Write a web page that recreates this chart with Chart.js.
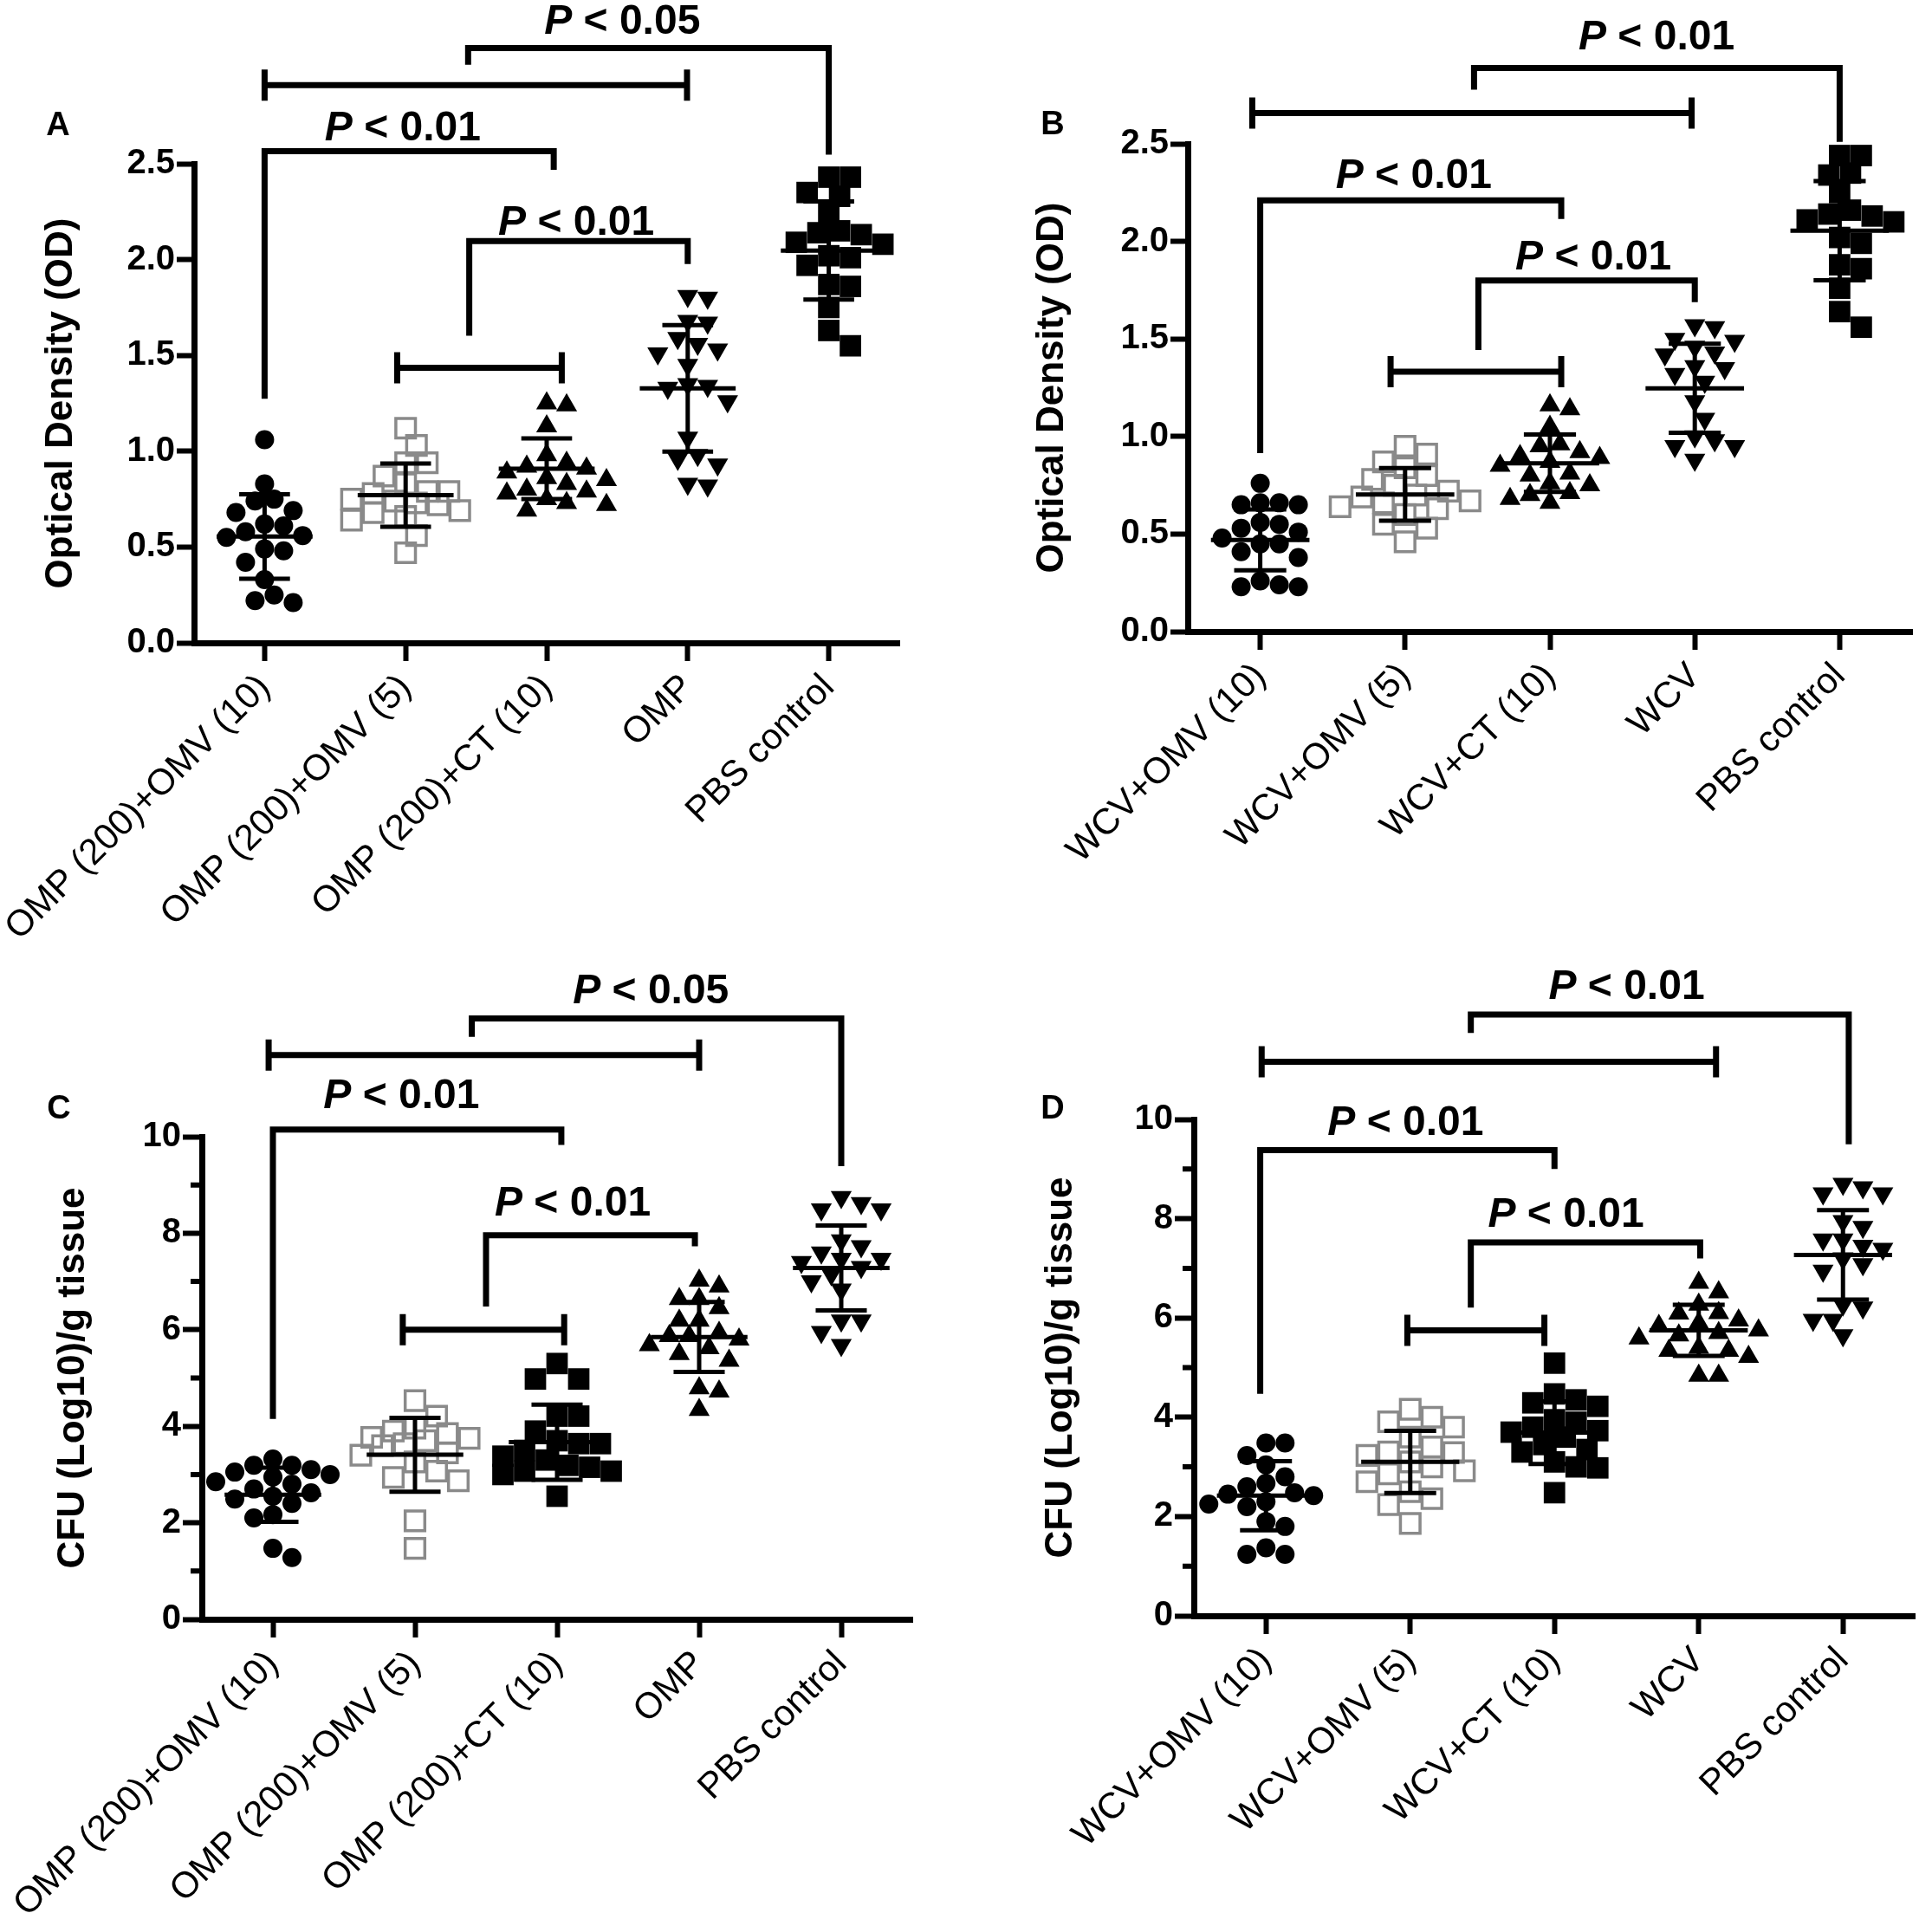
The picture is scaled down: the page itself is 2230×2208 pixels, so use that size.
<!DOCTYPE html>
<html>
<head>
<meta charset="utf-8">
<script src="https://cdn.jsdelivr.net/npm/chart.js@4.4.1/dist/chart.umd.min.js"></script>
<style>
  html, body { margin: 0; padding: 0; background: #fff; }
  #page { position: relative; width: 2230px; height: 2208px; overflow: hidden; }
  .panel { position: absolute; width: 1115px; height: 1104px; }
  .tag { position: absolute; font: bold 38px "Liberation Sans", Arial, sans-serif; color: #000; transform: translate(-50%, -50%); }
</style>
</head>
<body>
<div id="page">
  <div class="panel" style="left:0;top:0"><canvas id="chartA"></canvas></div>
  <div class="panel" style="left:1115px;top:0"><canvas id="chartB"></canvas></div>
  <div class="panel" style="left:0;top:1104px"><canvas id="chartC"></canvas></div>
  <div class="panel" style="left:1115px;top:1104px"><canvas id="chartD"></canvas></div>
  <div class="tag" style="left:67px;top:143px">A</div>
  <div class="tag" style="left:1215px;top:142px">B</div>
  <div class="tag" style="left:68px;top:1278px">C</div>
  <div class="tag" style="left:1215px;top:1278px">D</div>
</div>
<script>
// ---- categories ----
const ompGroups = ['OMP (200)+OMV (10)', 'OMP (200)+OMV (5)', 'OMP (200)+CT (10)', 'OMP', 'PBS control'];
const wcvGroups = ['WCV+OMV (10)', 'WCV+OMV (5)', 'WCV+CT (10)', 'WCV', 'PBS control'];

// ---- A: optical density, OMP vaccines ----
const odOmp = [
  [1.06, 0.83, 0.75, 0.74, 0.69, 0.68, 0.62, 0.61, 0.58, 0.56, 0.55, 0.49, 0.48, 0.42, 0.33, 0.25, 0.22, 0.21],
  [1.12, 1.03, 0.94, 0.94, 0.87, 0.83, 0.79, 0.79, 0.78, 0.75, 0.74, 0.73, 0.72, 0.69, 0.68, 0.66, 0.64, 0.56, 0.47],
  [1.25, 1.24, 1.13, 0.98, 0.94, 0.92, 0.91, 0.89, 0.86, 0.85, 0.83, 0.80, 0.79, 0.78, 0.75, 0.73, 0.72, 0.69],
  [1.81, 1.80, 1.68, 1.67, 1.59, 1.56, 1.53, 1.51, 1.45, 1.35, 1.34, 1.33, 1.26, 1.07, 0.98, 0.96, 0.93, 0.83, 0.82],
  [2.43, 2.43, 2.35, 2.33, 2.24, 2.15, 2.14, 2.13, 2.09, 2.08, 2.02, 2.01, 1.97, 1.87, 1.86, 1.75, 1.63, 1.55]
];
const odOmpMean = [0.555, 0.771, 0.909, 1.328, 2.047];
const odOmpSd = [0.22, 0.165, 0.158, 0.33, 0.256];

// ---- B: optical density, WCV vaccines ----
const odWcv = [
  [0.76, 0.66, 0.66, 0.65, 0.65, 0.56, 0.55, 0.53, 0.51, 0.48, 0.45, 0.45, 0.41, 0.38, 0.26, 0.24, 0.23, 0.23],
  [0.95, 0.91, 0.87, 0.84, 0.80, 0.78, 0.75, 0.72, 0.70, 0.69, 0.67, 0.66, 0.64, 0.63, 0.60, 0.55, 0.53, 0.46],
  [1.16, 1.14, 1.05, 0.96, 0.95, 0.92, 0.90, 0.89, 0.87, 0.85, 0.81, 0.80, 0.76, 0.75, 0.71, 0.70, 0.68, 0.66],
  [1.57, 1.56, 1.50, 1.49, 1.46, 1.43, 1.42, 1.36, 1.35, 1.32, 1.28, 1.18, 1.09, 1.00, 0.98, 0.95, 0.95, 0.88],
  [2.44, 2.44, 2.35, 2.34, 2.25, 2.16, 2.14, 2.13, 2.11, 2.10, 2.02, 1.99, 1.88, 1.86, 1.76, 1.64, 1.56]
];
const odWcvMean = [0.47, 0.703, 0.863, 1.247, 2.055];
const odWcvSd = [0.156, 0.135, 0.147, 0.228, 0.254];

// ---- C: CFU, OMP vaccines ----
const cfuOmp = [
  [3.32, 3.19, 3.19, 3.10, 3.05, 3.00, 2.95, 2.85, 2.80, 2.70, 2.62, 2.55, 2.49, 2.40, 2.17, 2.10, 1.47, 1.28],
  [4.53, 4.21, 3.96, 3.90, 3.85, 3.77, 3.75, 3.70, 3.64, 3.60, 3.45, 3.40, 3.26, 3.07, 2.94, 2.87, 2.04, 1.47],
  [5.30, 4.98, 4.98, 4.21, 4.21, 3.90, 3.70, 3.64, 3.64, 3.50, 3.38, 3.30, 3.19, 3.15, 3.07, 3.07, 3.00, 2.55],
  [7.02, 6.90, 6.64, 6.64, 6.45, 6.19, 6.19, 5.94, 5.87, 5.87, 5.80, 5.68, 5.62, 5.50, 5.36, 4.79, 4.72, 4.34],
  [8.75, 8.62, 8.49, 8.49, 7.85, 7.73, 7.60, 7.47, 7.47, 7.40, 7.30, 7.15, 7.00, 6.83, 6.19, 6.19, 5.95, 5.68]
];
const cfuOmpMean = [2.58, 3.41, 3.67, 5.85, 7.28];
const cfuOmpSd = [0.56, 0.765, 0.78, 0.725, 0.88];

// ---- D: CFU, WCV vaccines ----
const cfuWcv = [
  [3.48, 3.48, 3.23, 3.04, 2.80, 2.67, 2.60, 2.48, 2.45, 2.42, 2.30, 2.25, 2.20, 1.90, 1.80, 1.37, 1.24, 1.24],
  [4.16, 4.00, 3.91, 3.80, 3.60, 3.40, 3.30, 3.29, 3.23, 3.10, 3.00, 2.92, 2.86, 2.70, 2.50, 2.36, 2.24, 1.86],
  [5.09, 4.47, 4.35, 4.29, 4.22, 3.95, 3.90, 3.80, 3.73, 3.70, 3.60, 3.45, 3.35, 3.30, 3.10, 3.00, 2.98, 2.48],
  [6.71, 6.52, 6.27, 6.10, 6.09, 5.95, 5.90, 5.84, 5.75, 5.70, 5.65, 5.59, 5.40, 5.34, 5.34, 5.22, 4.84, 4.84],
  [8.70, 8.63, 8.51, 8.51, 7.95, 7.83, 7.58, 7.58, 7.45, 7.39, 7.20, 7.08, 6.95, 6.27, 6.21, 5.96, 5.96, 5.65]
];
const cfuWcvMean = [2.42, 3.1, 3.69, 5.75, 7.27];
const cfuWcvSd = [0.695, 0.625, 0.63, 0.515, 0.9];

// significance brackets: x in group index, y in axis units
const bracketsA = [
  { kind: 'p', x1: 1.443, y1: 3.016, x2: 4, y2: 2.548, y: 3.103, p: '0.05', px: 2.536, py: 3.177 },
  { kind: 'cap', x1: 0, x2: 2.995, y: 2.91 },
  { kind: 'p', x1: 0, y1: 1.274, x2: 2.05, y2: 2.468, y: 2.565, p: '0.01', px: 0.98, py: 2.623 },
  { kind: 'p', x1: 1.451, y1: 1.603, x2: 3, y2: 1.977, y: 2.097, p: '0.01', px: 2.21, py: 2.129 },
  { kind: 'cap', x1: 0.94, x2: 2.107, y: 1.435 }
];
const bracketsB = [
  { kind: 'p', x1: 1.476, y1: 2.778, x2: 4, y2: 2.51, y: 2.888, p: '0.01', px: 2.736, py: 2.983 },
  { kind: 'cap', x1: -0.055, x2: 2.978, y: 2.658 },
  { kind: 'p', x1: 0, y1: 0.915, x2: 2.078, y2: 2.115, y: 2.21, p: '0.01', px: 1.06, py: 2.273 },
  { kind: 'p', x1: 1.506, y1: 1.443, x2: 3, y2: 1.689, y: 1.80, p: '0.01', px: 2.3, py: 1.856 },
  { kind: 'cap', x1: 0.9, x2: 2.078, y: 1.332 }
];
const bracketsC = [
  { kind: 'p', x1: 1.40, y1: 12.07, x2: 4, y2: 9.39, y: 12.45, p: '0.05', px: 2.66, py: 12.77 },
  { kind: 'cap', x1: -0.03, x2: 3.0, y: 11.69 },
  { kind: 'p', x1: 0, y1: 4.15, x2: 2.03, y2: 9.83, y: 10.15, p: '0.01', px: 0.905, py: 10.6 },
  { kind: 'p', x1: 1.5, y1: 6.48, x2: 2.97, y2: 7.73, y: 7.96, p: '0.01', px: 2.11, py: 8.37 },
  { kind: 'cap', x1: 0.914, x2: 2.05, y: 6.0 }
];
const bracketsD = [
  { kind: 'p', x1: 1.42, y1: 11.74, x2: 4.04, y2: 9.5, y: 12.11, p: '0.01', px: 2.5, py: 12.42 },
  { kind: 'cap', x1: -0.03, x2: 3.12, y: 11.16 },
  { kind: 'p', x1: -0.04, y1: 4.47, x2: 2.0, y2: 9.0, y: 9.38, p: '0.01', px: 0.968, py: 9.69 },
  { kind: 'p', x1: 1.42, y1: 6.21, x2: 3.01, y2: 7.2, y: 7.52, p: '0.01', px: 2.08, py: 7.83 },
  { kind: 'cap', x1: 0.98, x2: 1.93, y: 5.75 }
];

const FONT = '"Liberation Sans", Arial, Helvetica, sans-serif';
Chart.defaults.font.family = FONT;
Chart.defaults.color = '#000';

// marker looks
const markers = {
  circle:   { pointStyle: 'circle',   pointRadius: 11,   backgroundColor: '#000', borderColor: '#000', borderWidth: 0, pointRotation: 0,   diam: 22 },
  openSq:   { pointStyle: 'rect',     pointRadius: 16,   backgroundColor: 'rgba(0,0,0,0)', borderColor: '#8a8a8a', borderWidth: 3.5, pointRotation: 0, diam: 25 },
  square:   { pointStyle: 'rect',     pointRadius: 17.5, backgroundColor: '#000', borderColor: '#000', borderWidth: 0, pointRotation: 0,   diam: 25 },
  triUp:    { pointStyle: 'triangle', pointRadius: 14,   backgroundColor: '#000', borderColor: '#000', borderWidth: 0, pointRotation: 0,   diam: 23 },
  triDown:  { pointStyle: 'triangle', pointRadius: 14,   backgroundColor: '#000', borderColor: '#000', borderWidth: 0, pointRotation: 180, diam: 23 }
};

function drawP(ctx, cx, baseY, val) {
  const fItal = 'italic bold 48px ' + FONT;
  const fBold = 'bold 48px ' + FONT;
  const rest = ' < ' + val;
  ctx.font = fItal;
  const w1 = ctx.measureText('P').width;
  ctx.font = fBold;
  const w2 = ctx.measureText(rest).width;
  const sx = cx - (w1 + w2) / 2;
  ctx.textAlign = 'left';
  ctx.textBaseline = 'alphabetic';
  ctx.fillStyle = '#000';
  ctx.font = fItal;
  ctx.fillText('P', sx, baseY);
  ctx.font = fBold;
  ctx.fillText(rest, sx + w1, baseY);
}

// error bars, brackets, minor ticks
const annotate = {
  id: 'annotate',
  afterDatasetsDraw(chart, args, opts) {
    const { ctx } = chart;
    const x = chart.scales.x, y = chart.scales.y;
    const step = x.getPixelForValue(1) - x.getPixelForValue(0);
    ctx.save();
    ctx.strokeStyle = '#000';
    ctx.lineCap = 'butt';
    ctx.lineJoin = 'miter';

    // mean +- SD
    ctx.lineWidth = 5;
    opts.means.forEach((m, g) => {
      const cx = x.getPixelForValue(g);
      const pm = y.getPixelForValue(m);
      const hi = y.getPixelForValue(m + opts.sds[g]);
      const lo = y.getPixelForValue(m - opts.sds[g]);
      ctx.beginPath();
      ctx.moveTo(cx - 0.34 * step, pm); ctx.lineTo(cx + 0.34 * step, pm);
      ctx.moveTo(cx - 0.18 * step, hi); ctx.lineTo(cx + 0.18 * step, hi);
      ctx.moveTo(cx - 0.18 * step, lo); ctx.lineTo(cx + 0.18 * step, lo);
      ctx.moveTo(cx, hi); ctx.lineTo(cx, lo);
      ctx.stroke();
    });

    // brackets
    ctx.lineWidth = 7;
    opts.brackets.forEach(b => {
      const xa = x.getPixelForValue(b.x1), xb = x.getPixelForValue(b.x2);
      const yy = y.getPixelForValue(b.y);
      ctx.beginPath();
      if (b.kind === 'p') {
        ctx.moveTo(xa, y.getPixelForValue(b.y1));
        ctx.lineTo(xa, yy);
        ctx.lineTo(xb, yy);
        ctx.lineTo(xb, y.getPixelForValue(b.y2));
      } else {
        ctx.moveTo(xa, yy); ctx.lineTo(xb, yy);
        ctx.moveTo(xa, yy - 18); ctx.lineTo(xa, yy + 18);
        ctx.moveTo(xb, yy - 18); ctx.lineTo(xb, yy + 18);
      }
      ctx.stroke();
      if (b.p) drawP(ctx, x.getPixelForValue(b.px), y.getPixelForValue(b.py), b.p);
    });

    // minor y ticks
    if (opts.minor) {
      ctx.lineWidth = 6;
      ctx.beginPath();
      opts.minor.forEach(v => {
        const py = y.getPixelForValue(v);
        ctx.moveTo(y.right - 13, py); ctx.lineTo(y.right, py);
      });
      ctx.stroke();
    }
    ctx.restore();
  }
};

// beeswarm kept inside +-0.45 of a group: points are pushed sideways,
// and when the column is full they are allowed to overlap a little
function swarm(chart, groups, looks) {
  const xs = chart.scales.x, ys = chart.scales.y;
  const pxPerIdx = xs.getPixelForValue(1) - xs.getPixelForValue(0);
  const maxPx = 0.45 * pxPerIdx;
  groups.forEach((vals, g) => {
    const d = markers[looks[g]].diam;
    const stepPx = d * 0.5;
    const order = vals.map((v, i) => i).sort((a, b) => vals[b] - vals[a]);
    const placed = [];
    const ds = chart.data.datasets[g];
    const cands = [0];
    for (let m = 1; m * stepPx <= maxPx; m++) cands.push(m * stepPx, -m * stepPx);
    order.forEach(i => {
      const py = ys.getPixelForValue(vals[i]);
      let best = 0, bestGap = -1;
      for (const dx of cands) {
        const gap = placed.reduce((acc, p) => Math.min(acc, Math.hypot(p.dx - dx, p.py - py)), Infinity);
        if (gap >= d * 0.92) { best = dx; bestGap = gap; break; }
        if (gap > bestGap + 0.5) { best = dx; bestGap = gap; }
      }
      placed.push({ dx: best, py });
      ds.data[i].x = g + best / pxPerIdx;
    });
  });
  chart.update('none');
}

function makePanel(id, cfg) {
  const datasets = cfg.values.map((vals, g) => {
    const mk = markers[cfg.looks[g]];
    return {
      type: 'scatter',
      data: vals.map(v => ({ x: g, y: v })),
      pointStyle: mk.pointStyle,
      pointRadius: mk.pointRadius,
      pointRotation: mk.pointRotation,
      backgroundColor: mk.backgroundColor,
      borderColor: mk.borderColor,
      borderWidth: mk.borderWidth,
      clip: false
    };
  });
  const chart = new Chart(document.getElementById(id), {
    type: 'scatter',
    data: { datasets },
    plugins: [annotate],
    options: {
      responsive: true,
      maintainAspectRatio: false,
      devicePixelRatio: 1,
      animation: false,
      events: [],
      layout: { padding: { top: cfg.padTop, right: cfg.padRight, left: 0, bottom: 0 } },
      plugins: {
        legend: { display: false },
        tooltip: { enabled: false },
        annotate: { means: cfg.means, sds: cfg.sds, brackets: cfg.brackets, minor: cfg.minor }
      },
      scales: {
        x: {
          type: 'linear',
          min: -0.5,
          max: 4.5,
          afterBuildTicks: s => { s.ticks = cfg.cats.map((c, i) => ({ value: i })); },
          afterFit: s => { s.height = cfg.xAxisH; s.paddingLeft = 0; s.paddingRight = 0; },
          ticks: {
            autoSkip: false,
            minRotation: 45,
            maxRotation: 45,
            padding: 6,
            color: '#000',
            font: { size: 42, weight: 'normal' },
            callback: v => cfg.cats[v]
          },
          grid: { display: true, drawOnChartArea: false, drawTicks: true, tickLength: 21, tickWidth: 6, tickColor: '#000' },
          border: { display: true, width: 7, color: '#000' }
        },
        y: {
          min: 0,
          max: cfg.yMax,
          afterFit: s => { s.width = cfg.yAxisW; },
          ticks: {
            stepSize: cfg.yStep,
            padding: 2,
            color: '#000',
            font: { size: 40, weight: 'bold' },
            callback: v => cfg.yDigits ? v.toFixed(cfg.yDigits) : String(v)
          },
          grid: { display: true, drawOnChartArea: false, drawTicks: true, tickLength: cfg.yTick, tickWidth: 6, tickColor: '#000' },
          border: { display: true, width: 7, color: '#000' },
          title: {
            display: true,
            text: cfg.yTitle,
            color: '#000',
            font: { size: 44, weight: 'bold', lineHeight: 1.2 },
            padding: { top: cfg.titlePad, bottom: 0 }
          }
        }
      }
    }
  });
  swarm(chart, cfg.values, cfg.looks);
  return chart;
}

makePanel('chartA', {
  cats: ompGroups, values: odOmp, means: odOmpMean, sds: odOmpSd, brackets: bracketsA,
  looks: ['circle', 'openSq', 'triUp', 'triDown', 'square'],
  yMax: 2.5, yStep: 0.5, yDigits: 1, yTick: 20, yTitle: 'Optical Density (OD)',
  yAxisW: 224, xAxisH: 362, padTop: 189, padRight: 77, titlePad: 44.6
});
makePanel('chartB', {
  cats: wcvGroups, values: odWcv, means: odWcvMean, sds: odWcvSd, brackets: bracketsB,
  looks: ['circle', 'openSq', 'triUp', 'triDown', 'square'],
  yMax: 2.5, yStep: 0.5, yDigits: 1, yTick: 20, yTitle: 'Optical Density (OD)',
  yAxisW: 256, xAxisH: 375, padTop: 166, padRight: 23, titlePad: 73.6
});
makePanel('chartC', {
  cats: ompGroups, values: cfuOmp, means: cfuOmpMean, sds: cfuOmpSd, brackets: bracketsC,
  looks: ['circle', 'openSq', 'square', 'triUp', 'triDown'], minor: [1, 3, 5, 7, 9],
  yMax: 10, yStep: 2, yDigits: 0, yTick: 22, yTitle: 'CFU (Log10)/g tissue',
  yAxisW: 233, xAxisH: 339, padTop: 208, padRight: 62, titlePad: 58.6
});
makePanel('chartD', {
  cats: wcvGroups, values: cfuWcv, means: cfuWcvMean, sds: cfuWcvSd, brackets: bracketsD,
  looks: ['circle', 'openSq', 'square', 'triUp', 'triDown'], minor: [1, 3, 5, 7, 9],
  yMax: 10, yStep: 2, yDigits: 0, yTick: 22, yTitle: 'CFU (Log10)/g tissue',
  yAxisW: 263, xAxisH: 343, padTop: 188, padRight: 7, titlePad: 83.6
});
</script>
</body>
</html>
